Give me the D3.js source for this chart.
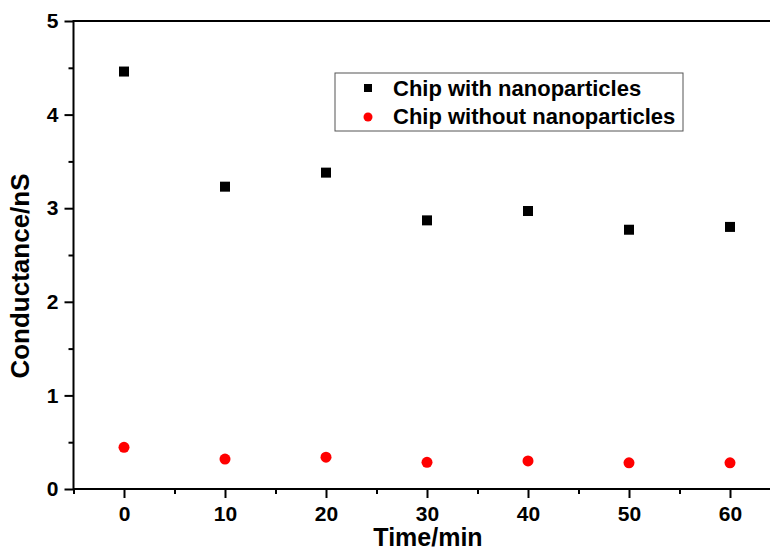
<!DOCTYPE html>
<html>
<head>
<meta charset="utf-8">
<script src="https://cdn.jsdelivr.net/npm/d3@7"></script>
<style>
  body { margin: 0; background: #fff; }
  svg { display: block; font-family: "Liberation Sans", Arial, sans-serif; }
  .axis path, .axis line { stroke: #000; stroke-width: 2; }
</style>
</head>
<body>
<svg id="chart"></svg>
<script>
// data
var times = [0, 10, 20, 30, 40, 50, 60];
var withNano = [4.46, 3.23, 3.38, 2.87, 2.97, 2.77, 2.80];
var withoutNano = [0.445, 0.32, 0.34, 0.285, 0.30, 0.28, 0.28];
var seriesNames = ["Chip with nanoparticles", "Chip without nanoparticles"];
var xTicks = [0, 10, 20, 30, 40, 50, 60];
var yTicks = [0, 1, 2, 3, 4, 5];

// setup
var W = 770, H = 552,
    pLeft = 73.5, pTop = 21, pRight = 780.5, pBottom = 489,
    svg = d3.select("#chart").attr("width", W).attr("height", H),
    x = d3.scaleLinear().domain([-5, 65]).range([pLeft, pRight]),
    y = d3.scaleLinear().domain([0, 5]).range([pBottom, pTop]);

// frame (right side falls outside the picture)
svg.append("rect")
    .attr("x", pLeft).attr("y", pTop)
    .attr("width", pRight - pLeft).attr("height", pBottom - pTop)
    .attr("fill", "none").attr("stroke", "#000").attr("stroke-width", 2);

// minor ticks
svg.append("g")
    .attr("class", "axis")
    .attr("transform", "translate(0," + pBottom + ")")
    .call(d3.axisBottom(x).tickValues(d3.range(-5, 66, 10)).tickSize(5).tickFormat(""))
    .select(".domain").remove();
svg.append("g")
    .attr("class", "axis")
    .attr("transform", "translate(" + pLeft + ",0)")
    .call(d3.axisLeft(y).tickValues(d3.range(0.5, 5, 1)).tickSize(5).tickFormat(""))
    .select(".domain").remove();

// major ticks
var xAxis = svg.append("g")
    .attr("class", "axis")
    .attr("transform", "translate(0," + pBottom + ")")
    .call(d3.axisBottom(x).tickValues(xTicks).tickSize(9).tickPadding(8).tickSizeOuter(0).tickFormat(d3.format("d")));
xAxis.select(".domain").remove();

var yAxis = svg.append("g")
    .attr("class", "axis")
    .attr("transform", "translate(" + pLeft + ",0)")
    .call(d3.axisLeft(y).tickValues(yTicks).tickSize(9).tickPadding(6).tickSizeOuter(0).tickFormat(d3.format("d")));
yAxis.select(".domain").remove();

svg.selectAll(".axis text")
    .attr("font-size", 21)
    .attr("font-weight", "bold")
    .attr("fill", "#000");

// axis titles
svg.append("text")
    .attr("x", 428).attr("y", 546)
    .attr("text-anchor", "middle")
    .style("font-size", "25px").style("font-weight", "bold")
    .text("Time/min");

svg.append("text")
    .attr("transform", "translate(29,276) rotate(-90)")
    .attr("text-anchor", "middle")
    .style("font-size", "26px").style("font-weight", "bold")
    .text("Conductance/nS");

// points
svg.selectAll("rect.sq")
    .data(times)
  .enter().append("rect")
    .attr("class", "sq")
    .attr("x", function(d) { return x(d) - 5; })
    .attr("y", function(d, i) { return y(withNano[i]) - 5; })
    .attr("width", 10).attr("height", 10)
    .attr("fill", "#000");

svg.selectAll("circle.dot")
    .data(times)
  .enter().append("circle")
    .attr("class", "dot")
    .attr("cx", function(d) { return x(d); })
    .attr("cy", function(d, i) { return y(withoutNano[i]); })
    .attr("r", 5.5)
    .attr("fill", "#ff0000");

// legend
var lg = svg.append("g");
lg.append("rect")
    .attr("x", 335).attr("y", 73).attr("width", 348).attr("height", 58)
    .attr("fill", "#fff").attr("stroke", "#555").attr("stroke-width", 1);
lg.append("rect")
    .attr("x", 364).attr("y", 84).attr("width", 8).attr("height", 8)
    .attr("fill", "#000");
lg.append("circle")
    .attr("cx", 368).attr("cy", 117).attr("r", 4.5)
    .attr("fill", "#ff0000");
lg.selectAll("text")
    .data(seriesNames)
  .enter().append("text")
    .attr("x", 393)
    .attr("y", function(d, i) { return 96 + i * 28; })
    .style("font-size", "22px").style("font-weight", "bold")
    .text(function(d) { return d; });
</script>
</body>
</html>
